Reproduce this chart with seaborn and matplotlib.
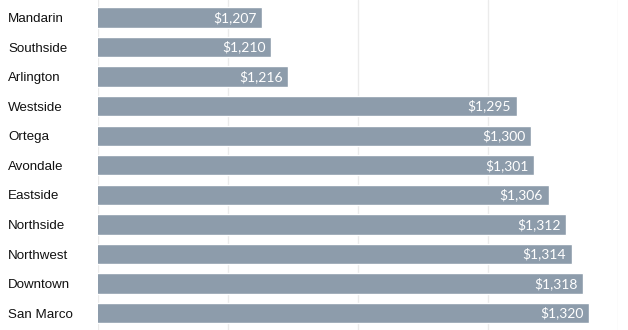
import matplotlib
matplotlib.use("Agg")
import matplotlib.pyplot as plt
import seaborn as sns
import pandas as pd

neighborhoods = ["Mandarin", "Southside", "Arlington", "Westside", "Ortega", "Avondale",
                 "Eastside", "Northside", "Northwest", "Downtown", "San Marco"]
rents = [1207, 1210, 1216, 1295, 1300, 1301, 1306, 1312, 1314, 1318, 1320]

df = pd.DataFrame({"neighborhood": neighborhoods, "rent": rents})

sns.set_theme(style="white")
plt.rcParams["font.family"] = ["Liberation Sans", "DejaVu Sans"]

fig = plt.figure(figsize=(6.28, 3.30), dpi=100)
ax = fig.add_axes([97.7 / 628, 0, (618 - 97.7) / 628, 1])

sns.barplot(data=df, y="neighborhood", x="rent", orient="h", color="#8d9cab",
            saturation=1, width=0.69, ax=ax)

ax.set_xlim(1150, 1330)
ax.set_ylim(10.57, -0.59)
ax.set_xticks([1150, 1195, 1240, 1285, 1330])
ax.xaxis.grid(True, color="#ebebeb", linewidth=1)
ax.set_axisbelow(True)
ax.tick_params(axis="x", bottom=False, labelbottom=False)
ax.tick_params(axis="y", left=False, length=0, pad=64.6, labelsize=9.6, labelcolor="#111111")
for lab in ax.get_yticklabels():
    lab.set_horizontalalignment("left")
for s in ax.spines.values():
    s.set_visible(False)
ax.set_xlabel("")
ax.set_ylabel("")

for i, v in enumerate(rents):
    ax.annotate(f"${v:,}", xy=(v, i), xytext=(-4, 0), textcoords="offset points",
                ha="right", va="center", color="white", fontsize=10,
                family=["Lato", "DejaVu Sans"])

fig.savefig("out.png", dpi=100)
